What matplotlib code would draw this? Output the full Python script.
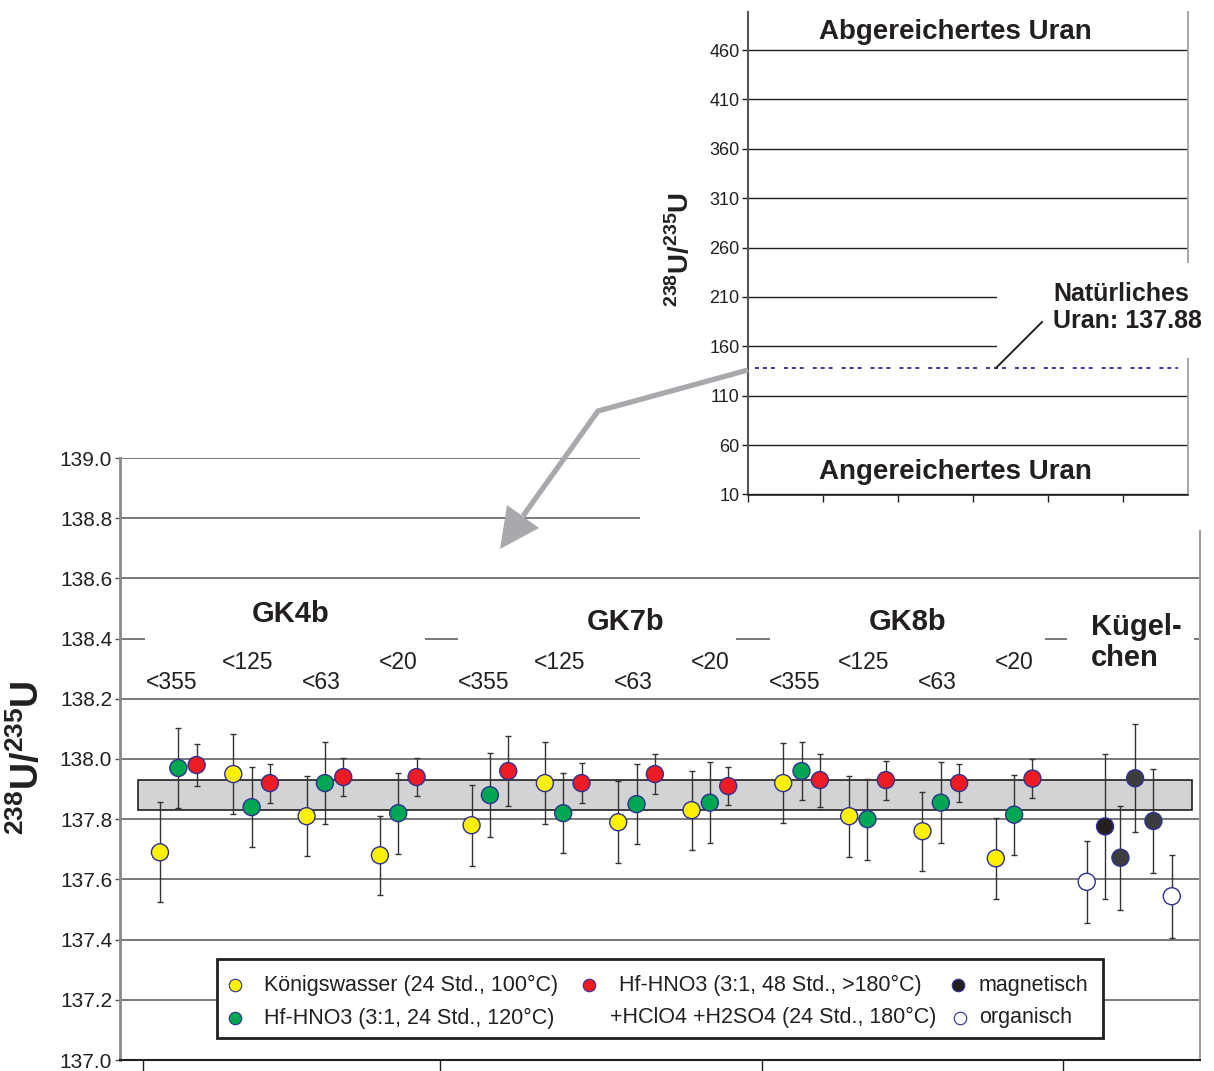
import matplotlib
matplotlib.use('Agg')
import matplotlib.pyplot as plt
from matplotlib.patches import Rectangle, Polygon
from matplotlib.lines import Line2D

plt.rcParams['font.family'] = ['Liberation Sans', 'DejaVu Sans']
plt.rcParams['mathtext.fontset'] = 'custom'
plt.rcParams['mathtext.rm'] = 'Liberation Sans'
plt.rcParams['mathtext.bf'] = 'Liberation Sans:bold'

# ------------------------------------------------------------
# Daten (x = Position der Probe, y = 238U/235U, e = Fehler)
# ------------------------------------------------------------
kw_x = [0, 4, 8, 12, 17, 21, 25, 29, 34, 37.6, 41.6, 45.6]
kw_y = [137.69, 137.95, 137.81, 137.68, 137.78, 137.92, 137.79, 137.83, 137.92, 137.81, 137.76, 137.67]
kw_e = [0.166, 0.134, 0.133, 0.132, 0.135, 0.137, 0.137, 0.131, 0.133, 0.135, 0.132, 0.134]

hf24_x = [1, 5, 9, 13, 18, 22, 26, 30, 35, 38.6, 42.6, 46.6]
hf24_y = [137.97, 137.84, 137.92, 137.82, 137.88, 137.82, 137.85, 137.855, 137.96, 137.80, 137.855, 137.815]
hf24_e = [0.134, 0.134, 0.135, 0.134, 0.14, 0.132, 0.134, 0.135, 0.097, 0.135, 0.134, 0.133]

hf48_x = [2, 6, 10, 14, 19, 23, 27, 31, 36, 39.6, 43.6, 47.6]
hf48_y = [137.98, 137.92, 137.94, 137.94, 137.96, 137.92, 137.95, 137.91, 137.93, 137.93, 137.92, 137.935]
hf48_e = [0.07, 0.065, 0.063, 0.064, 0.115, 0.067, 0.065, 0.064, 0.088, 0.065, 0.063, 0.065]

mag_x = [51.56, 52.4, 53.2, 54.2]
mag_y = [137.776, 137.672, 137.936, 137.794]
mag_e = [0.242, 0.172, 0.18, 0.172]
mag_c = ['#231f20', '#3d3d40', '#3d3d40', '#3d3d40']

org_x = [50.56, 55.2]
org_y = [137.592, 137.544]
org_e = [0.137, 0.138]

natural = 137.88
band_lo, band_hi = 137.831, 137.929

groups = ['GK4b', 'GK7b', 'GK8b']
group_x = [7.15, 25.4, 40.8]
group_y = [138.482, 138.455, 138.455]
fractions = ['<355', '<125', '<63', '<20']
boundaries = [-0.93, 15.28, 32.84, 49.26]

inset_ticks = [10, 60, 110, 160, 210, 260, 310, 360, 410, 460]

YELLOW = '#fff200'
GREEN = '#00a651'
RED = '#ed1c24'
EDGE = '#2e3192'

W, H = 1214, 1071


def fx(x):
    return x / W


def fy(y):
    return 1 - y / H


fig = plt.figure(figsize=(W / 100, H / 100), dpi=100)

# ============================================================
# Hauptdiagramm
# ============================================================
ax = fig.add_axes([fx(120), fy(1060), 1080 / W, 602 / H])
ax.set_xlim(-2.18, 56.74)
ax.set_ylim(137.0, 139.0)
ax.set_yticks([137.0 + 0.2 * i for i in range(11)])
ax.set_yticklabels([f'{137.0 + 0.2 * i:.1f}' for i in range(11)])
ax.set_xticks(boundaries)
ax.set_xticklabels([])
ax.tick_params(axis='y', direction='out', length=3.6, width=1, pad=2,
               labelsize=15, labelcolor='#231f20', color='#555555')
ax.tick_params(axis='x', direction='out', length=14, width=1, color='#231f20')
ax.set_axisbelow(True)
ax.grid(axis='y', color='#555555', lw=1.1)
ax.spines['top'].set_visible(False)
ax.spines['left'].set_color('#8a8a8a')
ax.spines['left'].set_linewidth(2)
ax.spines['right'].set_color('#a0a0a0')
ax.spines['right'].set_linewidth(1.5)
ax.spines['bottom'].set_color('#231f20')
ax.spines['bottom'].set_linewidth(1.5)

# Bereich natürliches Uran
ax.add_patch(Rectangle((-1.19, band_lo), 57.49, band_hi - band_lo,
                       fc='#d1d3d4', ec='#231f20', lw=1.2, zorder=2))

# weiße Felder hinter den Gruppenbeschriftungen
for x0, x1 in [(-0.82, 14.46), (16.26, 31.42), (33.28, 48.28), (49.48, 56.41)]:
    ax.add_patch(Rectangle((x0, 138.22), x1 - x0, 0.36, fc='white', ec='none', zorder=1.5))

series = [
    (kw_x, kw_y, kw_e, [YELLOW] * len(kw_x)),
    (hf24_x, hf24_y, hf24_e, [GREEN] * len(hf24_x)),
    (hf48_x, hf48_y, hf48_e, [RED] * len(hf48_x)),
    (mag_x, mag_y, mag_e, mag_c),
    (org_x, org_y, org_e, ['white'] * len(org_x)),
]
for xs, ys, es, cs in series:
    ax.errorbar(xs, ys, yerr=es, fmt='none', ecolor='#333333', elinewidth=1,
                capsize=2.5, capthick=1, zorder=3)
    ax.scatter(xs, ys, s=150, c=cs, edgecolors=EDGE, linewidths=1, zorder=4)

for name, gx, gy in zip(groups, group_x, group_y):
    ax.text(gx, gy, name, ha='center', va='center', fontsize=21,
            fontweight='bold', color='#231f20', zorder=5)
ax.text(50.79, 138.439, 'Kügel-', ha='left', va='center', fontsize=21,
        fontweight='bold', color='#231f20', zorder=5)
ax.text(50.79, 138.336, 'chen', ha='left', va='center', fontsize=21,
        fontweight='bold', color='#231f20', zorder=5)

sub_off = [-0.35, -0.2, -0.2, 0.0]
for g in range(3):
    for i, lab in enumerate(fractions):
        sx = hf24_x[g * 4 + i] + sub_off[i]
        sy = 138.2525 if i % 2 == 0 else 138.322
        ax.text(sx, sy, lab, ha='center', va='center', fontsize=16.5,
                color='#231f20', zorder=5)

fig.text(fx(27.5), fy(758), r'${}^{\mathbf{238}}\mathbf{U/}{}^{\mathbf{235}}\mathbf{U}$',
         rotation=90, ha='center', va='center', fontsize=27, color='#231f20')

# ============================================================
# Übersicht (Inset)
# ============================================================
fig.add_artist(Rectangle((fx(640), fy(530)), 574 / W, 530 / H,
                         transform=fig.transFigure, fc='white', ec='none', zorder=1))

ax2 = fig.add_axes([fx(748), fy(494.5), 440 / W, 482.5 / H])
ax2.set_zorder(2)
ax2.set_xlim(0, 440 / 75)
ax2.set_ylim(10, 498.5)
ax2.set_yticks(inset_ticks)
ax2.set_xticks(range(6))
ax2.set_xticklabels([])
ax2.tick_params(axis='y', direction='out', length=4.5, width=1, pad=1.5,
                labelsize=13, labelcolor='#231f20', color='#231f20')
ax2.tick_params(axis='x', direction='out', length=5, width=1, color='#231f20')
ax2.grid(axis='y', color='#231f20', lw=1)
ax2.spines['top'].set_visible(False)
ax2.spines['left'].set_color('#555555')
ax2.spines['left'].set_linewidth(1.5)
ax2.spines['right'].set_color('#a0a0a0')
ax2.spines['right'].set_linewidth(1.3)
ax2.spines['bottom'].set_color('#231f20')
ax2.spines['bottom'].set_linewidth(1.2)

ax2.plot([0.093, 5.73], [natural, natural], color='#262f8a', lw=1.3,
         dashes=(2.2, 2.2, 2.2, 2.2, 2.2, 5))
ax2.text(2.76, 478.2, 'Abgereichertes Uran', ha='center', va='center',
         fontsize=20, fontweight='bold', color='#231f20')
ax2.text(2.76, 32.8, 'Angereichertes Uran', ha='center', va='center',
         fontsize=20, fontweight='bold', color='#231f20')

fig.text(fx(680), fy(250), r'${}^{\mathbf{238}}\mathbf{U/}{}^{\mathbf{235}}\mathbf{U}$',
         rotation=90, ha='center', va='center', fontsize=20, color='#231f20', zorder=5)

fig.add_artist(Rectangle((fx(997), fy(358)), 217 / W, 95 / H,
                         transform=fig.transFigure, fc='white', ec='none', zorder=3))
fig.text(fx(1053), fy(307.5), f'Natürliches\nUran: {natural:.2f}', ha='left', va='center',
         fontsize=18, fontweight='bold', color='#231f20', linespacing=1.12, zorder=5)
fig.add_artist(Line2D([fx(996), fx(1042)], [fy(368), fy(322)], transform=fig.transFigure,
                      color='#231f20', lw=1.4, zorder=4))

# grauer Pfeil
fig.add_artist(Line2D([fx(748), fx(598), fx(523)], [fy(370), fy(411), fy(516)],
                      transform=fig.transFigure, color='#a7a9ac', lw=3.8,
                      solid_joinstyle='miter', solid_capstyle='butt', zorder=5))
fig.add_artist(Polygon([(fx(500), fy(549)), (fx(507), fy(505)), (fx(539), fy(528))],
                       closed=True, transform=fig.transFigure, fc='#a7a9ac', ec='none', zorder=5))

# ============================================================
# Legende
# ============================================================
fig.add_artist(Rectangle((fx(217), fy(1038)), 886 / W, 79 / H, transform=fig.transFigure,
                         fc='white', ec='#231f20', lw=2, zorder=6))
leg_items = [
    (235, 985, YELLOW, 264, 'Königswasser (24 Std., 100°C)'),
    (235, 1018, GREEN, 264, 'Hf-HNO3 (3:1, 24 Std., 120°C)'),
    (589, 985, RED, 619, 'Hf-HNO3 (3:1, 48 Std., >180°C)'),
    (958, 985, '#231f20', 979, 'magnetisch'),
    (960, 1018, 'white', 979, 'organisch'),
]
for mx, my, mc, tx, lab in leg_items:
    fig.add_artist(Line2D([fx(mx)], [fy(my)], transform=fig.transFigure, marker='o',
                          ms=9, mfc=mc, mec=EDGE, mew=0.8, ls='none', zorder=7))
    fig.text(fx(tx), fy(my), lab, ha='left', va='center', fontsize=15.5,
             color='#231f20', zorder=7)
fig.text(fx(610), fy(1017), '+HClO4 +H2SO4 (24 Std., 180°C)', ha='left', va='center',
         fontsize=15.5, color='#231f20', zorder=7)

plt.savefig('out.png', dpi=100)
plt.close()
